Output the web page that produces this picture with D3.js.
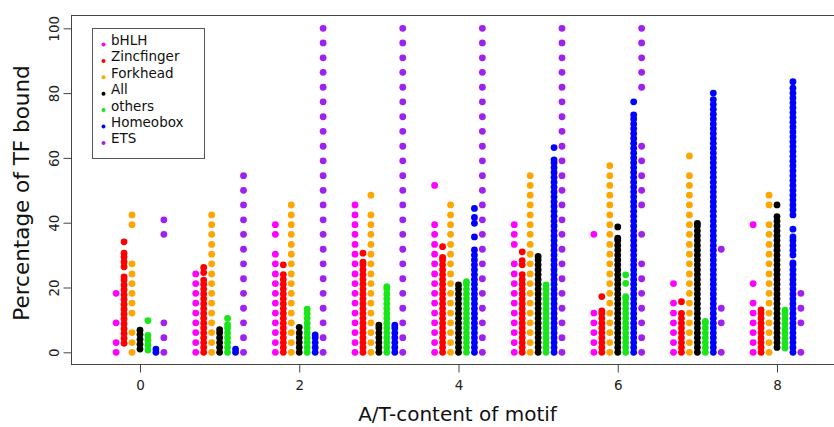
<!DOCTYPE html>
<html>
<head>
<meta charset="utf-8">
<script src="https://cdn.jsdelivr.net/npm/d3@7"></script>
<style>
	body { margin: 0; background: #fff; }
	.axis text { font-family: 'DejaVu Sans', sans-serif; font-size: 13.5px; fill: #222; }
	.axis line { stroke: #444; }
	.axis path.domain { display: none; }
	.title { font-family: 'DejaVu Sans', sans-serif; fill: #111; }
	.legend text { font-family: 'DejaVu Sans', sans-serif; font-size: 13.5px; fill: #111; }
</style>
</head>
<body>
<svg id="viz-strip" width="834" height="427"></svg>
<script>

var atContent = [ 0, 1, 2, 3, 4, 5, 6, 7, 8 ];
var xTicks = [ 0, 2, 4, 6, 8 ];
var yTicks = [ 0, 20, 40, 60, 80, 100 ];

var familyNames = [ 'bHLH', 'Zincfinger', 'Forkhead', 'All', 'others', 'Homeobox', 'ETS' ];
var familyColors = [ '#ff00ff', '#ff0000', '#ffa500', '#000000', '#19e619', '#0000ff', '#a020f0' ];

// percentage of TF bound, one list per A/T-content value (0..8)
var bHLH = [
	[ 0, 3.0, 9.1, 18.2 ],
	[ 0, 3.0, 6.1, 9.1, 12.1, 15.2, 18.2, 21.2, 24.2 ],
	[ 0, 3.0, 6.1, 9.1, 12.1, 15.2, 18.2, 21.2, 24.2, 27.3, 30.3, 36.4, 39.4 ],
	[ 0, 3.0, 6.1, 9.1, 12.1, 15.2, 18.2, 21.2, 24.2, 27.3, 30.3, 33.3, 36.4, 39.4, 42.4, 45.5 ],
	[ 0, 3.0, 6.1, 9.1, 12.1, 15.2, 18.2, 21.2, 24.2, 27.3, 30.3, 33.3, 36.4, 39.4, 51.5 ],
	[ 0, 3.0, 6.1, 9.1, 12.1, 15.2, 18.2, 21.2, 24.2, 27.3, 33.3, 36.4, 39.4 ],
	[ 0, 3.0, 6.1, 9.1, 12.1, 36.4 ],
	[ 0, 3.0, 6.1, 9.1, 12.1, 15.2, 21.2 ],
	[ 0, 3.0, 6.1, 9.1, 12.1, 15.2, 21.2, 39.4 ]
];

var zincfinger = [
	[ 2.8, 4.3, 5.8, 7.3, 8.8, 10.3, 11.8, 13.3, 14.8, 16.3, 17.8, 19.3, 20.8, 22.3, 23.3, 26.4, 27.9, 29.4, 30.6, 34.1 ],
	[ 0, 1.5, 3, 4.5, 6, 7.5, 9, 10.5, 12, 13.5, 15, 16.5, 18, 19.5, 21, 22.3, 24.6, 26.2 ],
	[ 0, 1.5, 3, 4.5, 6, 7.5, 9, 10.5, 12, 13.5, 15, 16.5, 18, 19.5, 21, 22.5, 24, 27 ],
	[ 0, 1.5, 3, 4.5, 6, 7.5, 9, 10.5, 12, 13.5, 15, 16.5, 18, 19.5, 21, 22.5, 24, 25.5, 27, 27.8, 30.6 ],
	[ 0, 1.5, 3, 4.5, 6, 7.5, 9, 10.5, 12, 13.5, 15, 16.5, 18, 19.5, 21, 22.5, 24, 25.5, 27, 28.5, 29.3, 32.6 ],
	[ 0, 1.5, 3, 4.5, 6, 7.5, 9, 10.5, 12, 13.5, 15, 16.5, 18, 19.5, 21, 22.5, 24, 27, 28.3, 31 ],
	[ 0, 1.5, 3, 4.5, 6, 7.5, 9, 10.5, 12, 12.8, 17.2 ],
	[ 0, 1.5, 3, 4.5, 6, 7.5, 9, 10.5, 12, 15.6 ],
	[ 0, 1.5, 3, 4.5, 6, 7.5, 9, 10.5, 12, 13.1 ]
];

var forkhead = [
	[ 0, 3.0, 6.1, 12.1, 15.2, 18.2, 21.2, 24.2, 27.3, 39.4, 42.4 ],
	[ 0, 3.0, 6.1, 9.1, 12.1, 15.2, 18.2, 21.2, 24.2, 27.3, 30.3, 33.3, 36.4, 39.4, 42.4 ],
	[ 0, 3.0, 6.1, 9.1, 12.1, 15.2, 18.2, 21.2, 24.2, 27.3, 30.3, 33.3, 36.4, 39.4, 42.4, 45.5 ],
	[ 0, 3.0, 6.1, 9.1, 12.1, 15.2, 18.2, 21.2, 24.2, 27.3, 30.3, 33.3, 36.4, 39.4, 42.4, 48.5 ],
	[ 0, 3.0, 6.1, 9.1, 12.1, 15.2, 18.2, 21.2, 24.2, 27.3, 30.3, 33.3, 36.4, 39.4, 42.4, 45.5 ],
	[ 0, 3.0, 6.1, 9.1, 12.1, 15.2, 18.2, 21.2, 24.2, 27.3, 30.3, 33.3, 36.4, 39.4, 42.4, 45.5, 48.5, 51.5, 54.5 ],
	[ 0, 3.0, 6.1, 9.1, 12.1, 15.2, 18.2, 21.2, 24.2, 27.3, 30.3, 33.3, 36.4, 39.4, 42.4, 45.5, 48.5, 51.5, 54.5, 57.6 ],
	[ 0, 3.0, 6.1, 9.1, 12.1, 15.2, 18.2, 21.2, 24.2, 27.3, 30.3, 33.3, 36.4, 39.4, 42.4, 45.5, 48.5, 51.5, 54.5, 60.6 ],
	[ 0, 3.0, 6.1, 9.1, 12.1, 15.2, 18.2, 21.2, 24.2, 27.3, 30.3, 33.3, 36.4, 39.4, 45.5, 48.5 ]
];

var allTF = [
	[ 1, 2.5, 4, 5.5, 6.8 ],
	[ 0, 1.5, 3, 4.5, 6, 7 ],
	[ 0, 1.5, 3, 4.5, 6, 7.7 ],
	[ 0, 1.5, 3, 4.5, 6, 7.5, 8.4 ],
	[ 0, 1.5, 3, 4.5, 6, 7.5, 9, 10.5, 12, 13.5, 15, 16.5, 18, 19.5, 20.8 ],
	[ 0, 1.5, 3, 4.5, 6, 7.5, 9, 10.5, 12, 13.5, 15, 16.5, 18, 19.5, 21, 22.5, 24, 25.5, 27, 28.5, 29.6 ],
	[ 0, 1.5, 3, 4.5, 6, 7.5, 9, 10.5, 12, 13.5, 15, 16.5, 18, 19.5, 21, 22.5, 24, 25.5, 27, 28.5, 30, 31.5, 33, 34.5, 35.2, 38.7 ],
	[ 0, 1.5, 3, 4.5, 6, 7.5, 9, 10.5, 12, 13.5, 15, 16.5, 18, 19.5, 21, 22.5, 24, 25.5, 27, 28.5, 30, 31.5, 33, 34.5, 36, 37.5, 39, 39.8 ],
	[ 1.5, 3, 4.5, 6, 7.5, 9, 10.5, 12, 13.5, 15, 16.5, 18, 19.5, 21, 22.5, 24, 25.5, 27, 28.5, 30, 31.5, 33, 34.5, 36, 37.5, 39, 40.5, 41.9, 45.5 ]
];

var others = [
	[ 0.7, 2.2, 3.7, 5.2, 9.8 ],
	[ 0, 1.5, 3, 4.5, 6, 7.5, 8.5, 10.5 ],
	[ 0, 1.5, 3, 4.5, 6, 7.5, 9, 10.5, 12, 13.3 ],
	[ 0, 1.5, 3, 4.5, 6, 7.5, 9, 10.5, 12, 13.5, 15, 16.5, 18, 19.5, 20.3 ],
	[ 0, 1.5, 3, 4.5, 6, 7.5, 9, 10.5, 12, 13.5, 15, 16.5, 18, 19.5, 21, 21.8 ],
	[ 0, 1.5, 3, 4.5, 6, 7.5, 9, 10.5, 12, 13.5, 15, 16.5, 18, 19.5, 20.8 ],
	[ 0, 1.5, 3, 4.5, 6, 7.5, 9, 10.5, 12, 13.5, 15, 16.5, 17.2, 21.3, 23.9 ],
	[ 0, 1.5, 3, 4.5, 6, 7.5, 9, 9.5 ],
	[ 1.3, 2.8, 4.3, 5.8, 7.3, 8.8, 10.3, 11.8, 13 ]
];

var homeobox = [
	[ 0, 1 ],
	[ 0, 1 ],
	[ 0, 1.5, 3, 4.5, 5.4 ],
	[ 0, 1.5, 3, 4.5, 6, 7.5, 8.4 ],
	[ 0, 1.5, 3, 4.5, 6, 7.5, 9, 10.5, 12, 13.5, 15, 16.5, 18, 19.5, 21, 22.5, 24, 25.5, 27, 28.5, 30, 31.6, 35.6, 39.8, 41.6, 44.4 ],
	[ 0, 1.5, 3, 4.5, 6, 7.5, 9, 10.5, 12, 13.5, 15, 16.5, 18, 19.5, 21, 22.5, 24, 25.5, 27, 28.5, 30, 31.5, 33, 34.5, 36, 37.5, 39, 40.5, 42, 43.5, 45, 46.5, 48, 49.5, 51, 52.5, 54, 55.5, 57, 58.5, 59.4, 63.2 ],
	[ 0, 1.5, 3, 4.5, 6, 7.5, 9, 10.5, 12, 13.5, 15, 16.5, 18, 19.5, 21, 22.5, 24, 25.5, 27, 28.5, 30, 31.5, 33, 34.5, 36, 37.5, 39, 40.5, 42, 43.5, 45, 46.5, 48, 49.5, 51, 52.5, 54, 55.5, 57, 58.5, 60, 61.5, 63, 64.5, 66, 67.5, 69, 70.5, 72, 73.3, 77.3 ],
	[ 0, 1.5, 3, 4.5, 6, 7.5, 9, 10.5, 12, 13.5, 15, 16.5, 18, 19.5, 21, 22.5, 24, 25.5, 27, 28.5, 30, 31.5, 33, 34.5, 36, 37.5, 39, 40.5, 42, 43.5, 45, 46.5, 48, 49.5, 51, 52.5, 54, 55.5, 57, 58.5, 60, 61.5, 63, 64.5, 66, 67.5, 69, 70.5, 72, 73.5, 75, 76.5, 78, 80 ],
	[ 0, 1.5, 3, 4.5, 6, 7.5, 9, 10.5, 12, 13.5, 15, 16.5, 18, 19.5, 21, 22.5, 24, 25.5, 27, 27.6, 30, 31.5, 33, 34.5, 35.6, 38, 42.4, 44, 45.5, 47, 48.5, 50, 51.5, 53, 54.5, 56, 57.5, 59, 60.5, 62, 63.5, 65, 66.5, 68, 69.5, 71, 72.5, 74, 75.5, 77, 78.5, 80, 81.5, 83.5 ]
];

var ets = [
	[ 0, 4.5, 9.1, 36.4, 40.9 ],
	[ 0, 4.5, 9.1, 13.6, 18.2, 22.7, 27.3, 31.8, 36.4, 40.9, 45.5, 50, 54.5 ],
	[ 0, 4.5, 9.1, 13.6, 18.2, 22.7, 27.3, 31.8, 36.4, 40.9, 45.5, 50, 54.5, 59.1, 63.6, 68.2, 72.7, 77.3, 81.8, 86.4, 90.9, 95.5, 100 ],
	[ 0, 4.5, 9.1, 13.6, 18.2, 22.7, 27.3, 31.8, 36.4, 40.9, 45.5, 50, 54.5, 59.1, 63.6, 68.2, 72.7, 77.3, 81.8, 86.4, 90.9, 95.5, 100 ],
	[ 0, 4.5, 9.1, 13.6, 18.2, 22.7, 27.3, 31.8, 36.4, 40.9, 45.5, 50, 54.5, 59.1, 63.6, 68.2, 72.7, 77.3, 81.8, 86.4, 90.9, 95.5, 100 ],
	[ 0, 4.5, 9.1, 13.6, 18.2, 22.7, 27.3, 31.8, 36.4, 40.9, 45.5, 50, 54.5, 59.1, 63.6, 68.2, 72.7, 77.3, 81.8, 86.4, 90.9, 95.5, 100 ],
	[ 0, 4.5, 9.1, 13.6, 18.2, 22.7, 27.3, 36.4, 45.5, 50, 54.5, 59.1, 63.6, 81.8, 86.4, 90.9, 95.5, 100 ],
	[ 0, 9.1, 13.6, 31.8 ],
	[ 0, 9.1, 13.6, 18.2 ]
];

var seriesValues = [ bHLH, zincfinger, forkhead, allTF, others, homeobox, ets ];

var svg = d3.select( '#viz-strip' );

// plot box (R style, 4% padding on both axes)
var x = d3.scaleLinear().domain( [ -0.85, 8.85 ] ).range( [ 72.3, 844.7 ] );
var y = d3.scaleLinear().domain( [ 0, 100 ] ).range( [ 352.3, 28.3 ] );

var color = d3.scaleOrdinal().domain( familyNames ).range( familyColors );

// each family sits a tenth to the side of the A/T value
var offset = d3.scaleLinear().domain( [ 0, familyNames.length - 1 ] ).range( [ -0.3, 0.3 ] );

var frameTop = Math.round( y( 104 ) ) + 0.5;
var frameBottom = Math.round( y( -4 ) ) - 0.5;

svg.append( 'rect' )
	.attr( 'x', 71.5 )
	.attr( 'y', frameTop )
	.attr( 'width', 840 - 71.5 )
	.attr( 'height', frameBottom - frameTop )
	.style( 'fill', 'none' )
	.style( 'stroke', '#444' );

var xAxis = d3.axisBottom( x )
	.tickValues( xTicks )
	.tickSize( 8 )
	.tickSizeOuter( 0 );

var yAxis = d3.axisLeft( y )
	.tickValues( yTicks )
	.tickSize( 8 )
	.tickSizeOuter( 0 );

var gx = svg.append( 'g' )
	.classed( 'axis', true )
	.attr( 'transform', 'translate(0,' + frameBottom + ')' )
	.call( xAxis );

gx.selectAll( 'text' ).attr( 'y', 16 );

var gy = svg.append( 'g' )
	.classed( 'axis', true )
	.attr( 'transform', 'translate(71.5,0)' )
	.call( yAxis );

gy.selectAll( 'text' )
	.attr( 'x', null )
	.attr( 'dy', null )
	.attr( 'text-anchor', 'middle' )
	.attr( 'transform', 'translate(-13,0) rotate(-90)' );

var points = [];
seriesValues.forEach( function ( perAt, j ) {
	perAt.forEach( function ( values, i ) {
		values.forEach( function ( v ) {
			points.push( { at: atContent[i], family: familyNames[j], j: j, value: v } );
		} );
	} );
} );

svg.append( 'g' )
	.selectAll( 'circle.point' )
	.data( points )
	.enter()
	.append( 'circle' )
	.classed( 'point', true )
	.attr( 'cx', function ( d ) { return x( d.at + offset( d.j ) ); } )
	.attr( 'cy', function ( d ) { return y( d.value ); } )
	.attr( 'r', 3.4 )
	.style( 'fill', function ( d ) { return color( d.family ); } );

svg.append( 'text' )
	.classed( 'title', true )
	.attr( 'x', 457.5 )
	.attr( 'y', 421 )
	.attr( 'text-anchor', 'middle' )
	.style( 'font-size', '20px' )
	.text( 'A/T-content of motif' );

svg.append( 'text' )
	.classed( 'title', true )
	.attr( 'transform', 'translate(29,193) rotate(-90)' )
	.attr( 'text-anchor', 'middle' )
	.style( 'font-size', '21.5px' )
	.text( 'Percentage of TF bound' );

var legend = svg.append( 'g' ).classed( 'legend', true );

legend.append( 'rect' )
	.attr( 'x', 92.5 )
	.attr( 'y', 28.5 )
	.attr( 'width', 112 )
	.attr( 'height', 130 )
	.style( 'fill', '#fff' )
	.style( 'stroke', '#555' );

var entries = legend.selectAll( 'g.entry' )
	.data( familyNames )
	.enter()
	.append( 'g' )
	.classed( 'entry', true )
	.attr( 'transform', function ( d, i ) {
		return 'translate(0,' + ( 44.5 + i * 16.4 ) + ')';
	} );

entries.append( 'circle' )
	.attr( 'cx', 103.5 )
	.attr( 'cy', 0 )
	.attr( 'r', 2 )
	.style( 'fill', function ( d ) { return color( d ); } );

entries.append( 'text' )
	.attr( 'x', 111 )
	.attr( 'y', 0.5 )
	.text( function ( d ) { return d; } );

</script>
</body>
</html>
